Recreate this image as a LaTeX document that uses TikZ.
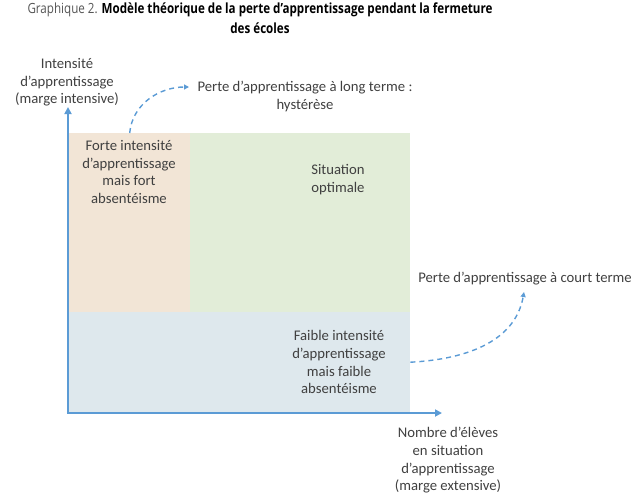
\documentclass[tikz,border=0pt]{standalone}
\usepackage{fontspec}
\setmainfont{Carlito}
\newfontfamily\titlefont[FakeStretch=0.83]{Open Sans}
\usetikzlibrary{arrows.meta}
\definecolor{txt}{HTML}{404040}
\definecolor{axblue}{HTML}{5B9BD5}
\definecolor{orangefill}{HTML}{F2E5D6}
\definecolor{greenfill}{HTML}{E2EDD8}
\definecolor{bluefill}{HTML}{DEE8ED}
\definecolor{titlegray}{HTML}{555555}
\tikzset{
  lbl/.style={font=\fontsize{14.7}{17.8}\selectfont, text=txt, align=center, inner sep=0pt},
  zone/.style={draw=none, inner sep=0pt, anchor=north west},
  axis/.style={draw=axblue, line width=2.4pt, -{Triangle[length=7pt,width=7pt]}},
  dasharrow/.style={draw=axblue, line width=1.4pt, dash pattern=on 5pt off 4pt, -{Triangle[length=5pt,width=5pt]}},
}
\begin{document}
\begin{tikzpicture}[x=1pt,y=-1pt]
\useasboundingbox (0,0) rectangle (644,496);
% title
\node[font=\titlefont\fontsize{14}{20}\selectfont, align=center, inner sep=0pt, anchor=north] (title) at (260,3)
  {\textcolor{titlegray}{Graphique 2.} \textbf{Modèle théorique de la perte d’apprentissage pendant la fermeture}\\\textbf{des écoles}};
% zones
\node[zone, fill=orangefill, minimum width=121pt, minimum height=179pt] (orange) at (69,133) {};
\node[zone, fill=greenfill, minimum width=220pt, minimum height=179pt] (green) at (190,133) {};
\node[zone, fill=bluefill, minimum width=341pt, minimum height=100pt] (blue) at (69,312) {};
% zone texts
\node[lbl, anchor=north] (t1) at (129,140) {Forte intensité\\d’apprentissage\\mais fort\\absentéisme};
\node[lbl, anchor=north] (t2) at (338,164) {Situation\\optimale};
\node[lbl, anchor=north] (t3) at (339,330) {Faible intensité\\d’apprentissage\\mais faible\\absentéisme};
% axes
\coordinate (origin) at (68,413);
\coordinate (ytip) at (68,107);
\coordinate (xtip) at (442,413);
\coordinate (xstart) at (66.8,413);
\draw[axis] (origin) -- (ytip);
\draw[axis] (xstart) -- (xtip);
% axis labels
\node[lbl, anchor=north] (ylab) at (67,58) {Intensité\\d’apprentissage\\(marge intensive)};
\node[lbl, anchor=north] (xlab) at (448,427) {Nombre d’élèves\\en situation\\d’apprentissage\\(marge extensive)};
% loss labels
\node[lbl, anchor=north] (long) at (305,81) {Perte d’apprentissage à long terme :\\hystérèse};
\node[lbl, anchor=north] (short) at (525,272) {Perte d’apprentissage à court terme};
\coordinate (longend) at (189,87);
\coordinate (shortend) at (524,292);
\draw[dasharrow] (orange.north) to[out=85,in=180] (longend);
\draw[dasharrow] (blue.east) to[out=3,in=-100] (shortend);
\end{tikzpicture}
\end{document}
